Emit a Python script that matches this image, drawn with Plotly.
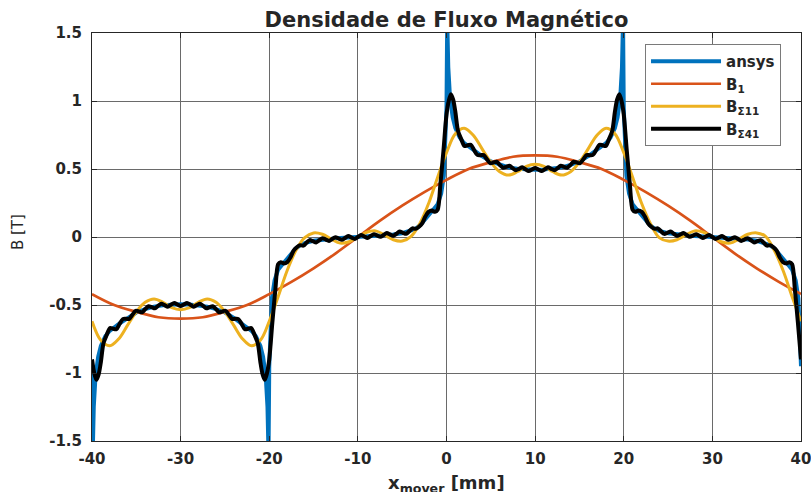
import plotly.graph_objects as go

# ---------------- data ----------------
x_ticks = [-40, -30, -20, -10, 0, 10, 20, 30, 40]
x_ticktext = ["-40", "-30", "-20", "-10", "0", "10", "20", "30", "40"]
y_ticks = [1.5, 1, 0.5, 0, -0.5, -1, -1.5]
y_ticktext = ["1.5", "1", "0.5", "0", "-0.5", "-1", "-1.5"]

# ansys (FEM) curve
x_ansys = [
    -40.00, -39.92, -39.80, -39.60, -39.30, -39.00, -38.50, -38.00, -37.00, -36.00,
    -35.00, -34.00, -33.00, -32.00, -31.00, -30.00, -29.00, -28.00, -27.00, -26.00,
    -25.00, -24.00, -23.00, -22.00, -21.50, -21.00, -20.70, -20.40, -20.20, -20.08,
    -20.00, -19.90, -19.70, -19.40, -19.00, -18.50, -18.00, -17.50, -17.00, -16.50,
    -16.00, -15.00, -14.00, -13.00, -12.00, -11.00, -10.00, -9.00, -8.00, -7.00,
    -6.00, -5.00, -4.00, -3.50, -3.00, -2.50, -2.00, -1.50, -1.00, -0.60,
    -0.30, -0.10,
    0.00, 0.08, 0.20, 0.40, 0.70, 1.00, 1.50, 2.00, 3.00, 4.00,
    5.00, 6.00, 7.00, 8.00, 9.00, 10.00, 11.00, 12.00, 13.00, 14.00,
    15.00, 16.00, 17.00, 18.00, 18.50, 19.00, 19.30, 19.60, 19.80, 19.92,
    20.00, 20.10, 20.30, 20.60, 21.00, 21.50, 22.00, 22.50, 23.00, 23.50,
    24.00, 25.00, 26.00, 27.00, 28.00, 29.00, 30.00, 31.00, 32.00, 33.00,
    34.00, 35.00, 36.00, 36.50, 37.00, 37.50, 38.00, 38.50, 39.00, 39.40,
    39.70, 39.90, 40.00,
]
y_ansys = [
    -0.95, -1.60, -1.25, -1.02, -0.88, -0.80, -0.73, -0.69, -0.64, -0.595,
    -0.555, -0.53, -0.512, -0.502, -0.497, -0.495, -0.497, -0.502, -0.512, -0.53,
    -0.555, -0.595, -0.64, -0.69, -0.73, -0.80, -0.88, -1.02, -1.25, -1.60,
    -0.95, -0.75, -0.45, -0.32, -0.24, -0.20, -0.16, -0.12, -0.085, -0.06,
    -0.045, -0.028, -0.019, -0.013, -0.008, -0.004, 0.000, 0.004, 0.008, 0.013,
    0.019, 0.028, 0.045, 0.06, 0.085, 0.12, 0.16, 0.20, 0.24, 0.32,
    0.45, 0.75,
    0.95, 1.60, 1.25, 1.02, 0.88, 0.80, 0.73, 0.69, 0.64, 0.595,
    0.555, 0.53, 0.512, 0.502, 0.497, 0.495, 0.497, 0.502, 0.512, 0.53,
    0.555, 0.595, 0.64, 0.69, 0.73, 0.80, 0.88, 1.02, 1.25, 1.60,
    0.95, 0.75, 0.45, 0.32, 0.24, 0.20, 0.16, 0.12, 0.085, 0.06,
    0.045, 0.028, 0.019, 0.013, 0.008, 0.004, 0.000, -0.004, -0.008, -0.013,
    -0.019, -0.028, -0.045, -0.06, -0.085, -0.12, -0.16, -0.20, -0.24, -0.32,
    -0.45, -0.75, -0.95,
]

# fundamental B1
x_b1 = [-40, -37.5, -35, -32.5, -30, -27.5, -25, -22.5, -20, -17.5, -15, -12.5, -10,
        -7.5, -5, -2.5, 0, 2.5, 5, 7.5, 10, 12.5, 15, 17.5, 20, 22.5, 25, 27.5, 30,
        32.5, 35, 37.5, 40]
y_b1 = [-0.42, -0.50, -0.55, -0.59, -0.60, -0.59, -0.55, -0.50, -0.42, -0.33, -0.23, -0.12, 0.00,
        0.12, 0.23, 0.33, 0.42, 0.50, 0.55, 0.59, 0.60, 0.59, 0.55, 0.50, 0.42, 0.33, 0.23, 0.12, 0.00,
        -0.12, -0.23, -0.33, -0.42]

# sum up to 11th harmonic
x_b11 = [-40, -39, -38, -37, -36, -35, -34, -33, -32, -31, -30, -29, -28, -27, -26, -25, -24, -23, -22, -21,
         -20, -19, -18, -17, -16, -15, -14, -13, -12, -11, -10, -9, -8, -7, -6, -5, -4, -3, -2, -1,
         0, 1, 2, 3, 4, 5, 6, 7, 8, 9, 10, 11, 12, 13, 14, 15, 16, 17, 18, 19,
         20, 21, 22, 23, 24, 25, 26, 27, 28, 29, 30, 31, 32, 33, 34, 35, 36, 37, 38, 39, 40]
y_b11 = [-0.62, -0.76, -0.80, -0.75, -0.65, -0.55, -0.48, -0.455, -0.48, -0.52,
         -0.535, -0.52, -0.48, -0.455, -0.48, -0.55, -0.65, -0.75, -0.80, -0.76,
         -0.62, -0.44, -0.25, -0.10, -0.005, 0.03, 0.02, -0.015, -0.045, -0.035,
         0.00, 0.035, 0.045, 0.015, -0.02, -0.03, 0.005, 0.10, 0.25, 0.44,
         0.62, 0.76, 0.80, 0.75, 0.65, 0.55, 0.48, 0.455, 0.48, 0.52,
         0.535, 0.52, 0.48, 0.455, 0.48, 0.55, 0.65, 0.75, 0.80, 0.76,
         0.62, 0.44, 0.25, 0.10, -0.005, -0.03, -0.02, 0.015, 0.045, 0.035,
         0.00, -0.035, -0.045, -0.015, 0.02, 0.03, 0.005, -0.10, -0.25, -0.44, -0.62]

# sum up to 41st harmonic
x_b41 = [
    -40.00, -39.75, -39.50, -39.25, -39.00, -38.70, -38.34, -37.97, -37.61, -37.25,
    -36.89, -36.52, -36.16, -35.80, -35.44, -35.07, -34.71, -34.35, -33.99, -33.62,
    -33.26, -32.90, -32.54, -32.17, -31.81, -31.45, -31.09, -30.72, -30.36, -30.00,
    -29.64, -29.28, -28.91, -28.55, -28.19, -27.83, -27.46, -27.10, -26.74, -26.38,
    -26.01, -25.65, -25.29, -24.93, -24.56, -24.20, -23.84, -23.48, -23.11, -22.75,
    -22.39, -22.03, -21.66, -21.30, -21.00, -20.75, -20.50, -20.25,
    -20.00, -19.65, -19.30, -19.00, -18.70, -18.34, -17.97, -17.61, -17.25, -16.89,
    -16.52, -16.16, -15.80, -15.44, -15.07, -14.71, -14.35, -13.99, -13.62, -13.26,
    -12.90, -12.54, -12.17, -11.81, -11.45, -11.09, -10.72, -10.36, -10.00, -9.64,
    -9.28, -8.91, -8.55, -8.19, -7.83, -7.46, -7.10, -6.74, -6.38, -6.01,
    -5.65, -5.29, -4.93, -4.56, -4.20, -3.84, -3.48, -3.11, -2.75, -2.39,
    -2.03, -1.66, -1.30, -1.00, -0.70, -0.35,
    0.00, 0.25, 0.50, 0.75, 1.00, 1.30, 1.66, 2.03, 2.39, 2.75,
    3.11, 3.48, 3.84, 4.20, 4.56, 4.93, 5.29, 5.65, 6.01, 6.38,
    6.74, 7.10, 7.46, 7.83, 8.19, 8.55, 8.91, 9.28, 9.64, 10.00,
    10.36, 10.72, 11.09, 11.45, 11.81, 12.17, 12.54, 12.90, 13.26, 13.62,
    13.99, 14.35, 14.71, 15.07, 15.44, 15.80, 16.16, 16.52, 16.89, 17.25,
    17.61, 17.97, 18.34, 18.70, 19.00, 19.25, 19.50, 19.75, 20.00,
    20.35, 20.70, 21.00, 21.30, 21.66, 22.03, 22.39, 22.75, 23.11, 23.48,
    23.84, 24.20, 24.56, 24.93, 25.29, 25.65, 26.01, 26.38, 26.74, 27.10,
    27.46, 27.83, 28.19, 28.55, 28.91, 29.28, 29.64, 30.00, 30.36, 30.72,
    31.09, 31.45, 31.81, 32.17, 32.54, 32.90, 33.26, 33.62, 33.99, 34.35,
    34.71, 35.07, 35.44, 35.80, 36.16, 36.52, 36.89, 37.25, 37.61, 37.97,
    38.34, 38.70, 39.00, 39.30, 39.65, 40.00,
]
y_b41 = [
    -0.90, -1.00, -1.05, -1.01, -0.92, -0.78, -0.72, -0.670, -0.675, -0.678,
    -0.640, -0.604, -0.602, -0.602, -0.572, -0.543, -0.547, -0.554, -0.530, -0.509,
    -0.516, -0.524, -0.506, -0.491, -0.501, -0.512, -0.498, -0.485, -0.496, -0.507,
    -0.496, -0.485, -0.498, -0.512, -0.501, -0.491, -0.506, -0.524, -0.516, -0.509,
    -0.530, -0.554, -0.547, -0.543, -0.572, -0.602, -0.602, -0.604, -0.640, -0.678,
    -0.675, -0.670, -0.72, -0.78, -0.92, -1.01, -1.05, -1.00,
    -0.90, -0.63, -0.38, -0.20, -0.185, -0.195, -0.185, -0.15, -0.10, -0.075,
    -0.060, -0.064, -0.042, -0.023, -0.031, -0.040, -0.024, -0.009, -0.019, -0.029,
    -0.015, -0.001, -0.011, -0.021, -0.007, 0.007, -0.004, -0.014, 0.000, 0.014,
    0.004, -0.007, 0.007, 0.021, 0.011, 0.001, 0.015, 0.029, 0.019, 0.009,
    0.024, 0.040, 0.031, 0.023, 0.042, 0.064, 0.060, 0.075, 0.10, 0.15,
    0.185, 0.195, 0.185, 0.20, 0.38, 0.63,
    0.90, 1.00, 1.05, 1.01, 0.92, 0.78, 0.72, 0.670, 0.675, 0.678,
    0.640, 0.604, 0.602, 0.602, 0.572, 0.543, 0.547, 0.554, 0.530, 0.509,
    0.516, 0.524, 0.506, 0.491, 0.501, 0.512, 0.498, 0.485, 0.496, 0.507,
    0.496, 0.485, 0.498, 0.512, 0.501, 0.491, 0.506, 0.524, 0.516, 0.509,
    0.530, 0.554, 0.547, 0.543, 0.572, 0.602, 0.602, 0.604, 0.640, 0.678,
    0.675, 0.670, 0.72, 0.78, 0.92, 1.01, 1.05, 1.00, 0.90,
    0.63, 0.38, 0.20, 0.185, 0.195, 0.185, 0.15, 0.10, 0.075, 0.060,
    0.064, 0.042, 0.023, 0.031, 0.040, 0.024, 0.009, 0.019, 0.029, 0.015,
    0.001, 0.011, 0.021, 0.007, -0.007, 0.004, 0.014, 0.000, -0.014, -0.004,
    0.007, -0.007, -0.021, -0.011, -0.001, -0.015, -0.029, -0.019, -0.009, -0.024,
    -0.040, -0.031, -0.023, -0.042, -0.064, -0.060, -0.075, -0.10, -0.15, -0.185,
    -0.195, -0.185, -0.20, -0.38, -0.63, -0.90,
]

# ---------------- figure ----------------
FONT = "DejaVu Sans, Verdana, sans-serif"
TXT = "#262626"
fig = go.Figure()
fig.add_trace(go.Scatter(x=x_ansys, y=y_ansys, mode="lines", name="<b>ansys</b>",
                         line=dict(color="#0072BD", width=4)))
fig.add_trace(go.Scatter(x=x_b1, y=y_b1, mode="lines", name="<b>B<sub>1</sub></b>",
                         line=dict(color="#D95319", width=2.7, shape="spline")))
fig.add_trace(go.Scatter(x=x_b11, y=y_b11, mode="lines", name="<b>B<sub>Σ11</sub></b>",
                         line=dict(color="#EDB120", width=3, shape="spline")))
fig.add_trace(go.Scatter(x=x_b41, y=y_b41, mode="lines", name="<b>B<sub>Σ41</sub></b>",
                         line=dict(color="black", width=4, shape="spline", smoothing=0.8)))

axis_common = dict(showline=True, linecolor=TXT, linewidth=1, mirror="ticks",
                   ticks="inside", ticklen=5, tickcolor=TXT, automargin=False,
                   showgrid=True, gridcolor="#6a6a6a", gridwidth=1, zeroline=False,
                   ticklabeloverflow="allow",
                   tickfont=dict(family=FONT, size=15, color=TXT, weight="bold"))

fig.update_xaxes(range=[-40, 40], tickvals=x_ticks, ticktext=x_ticktext,
                 ticklabelstandoff=4, **axis_common)
fig.update_yaxes(range=[-1.5, 1.5], tickvals=y_ticks, ticktext=y_ticktext,
                 ticklabelstandoff=6, **axis_common)

fig.update_layout(
    width=811, height=492,
    margin=dict(l=92, r=10, t=33, b=51, autoexpand=False),
    paper_bgcolor="white", plot_bgcolor="white",
    font=dict(family=FONT, color=TXT),
    showlegend=True,
    legend=dict(x=0.78, y=0.973, xanchor="left", yanchor="top",
                bgcolor="white", bordercolor="#7a7a7a", borderwidth=1,
                font=dict(family=FONT, size=15, color=TXT),
                tracegroupgap=0, itemwidth=70),
    title=dict(text="<b>Densidade de Fluxo Magnético</b>", x=0.5, xanchor="center",
               xref="paper", y=0.96, yanchor="middle",
               font=dict(family=FONT, size=21, color=TXT)),
    annotations=[
        dict(text="B [T]", textangle=-90, xref="paper", yref="paper",
             x=-0.105, y=0.511, xanchor="center", yanchor="middle", showarrow=False,
             font=dict(family=FONT, size=15, color=TXT)),
        dict(text="<b>x<sub>mover</sub> [mm]</b>", xref="paper", yref="paper",
             x=0.5, y=-0.105, xanchor="center", yanchor="middle", showarrow=False,
             font=dict(family=FONT, size=18, color=TXT)),
    ],
)

fig.write_html("out.html", config={"displayModeBar": False},
               post_script="document.body.style.margin='0';")
